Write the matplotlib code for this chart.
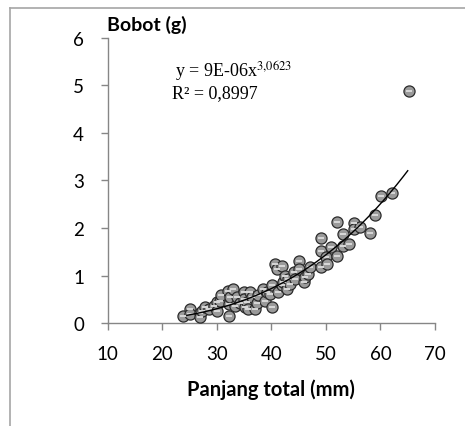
import matplotlib
matplotlib.use("Agg")
import matplotlib.pyplot as plt
import numpy as np
from matplotlib.lines import Line2D

# panjang total (mm) dan bobot (g)
panjang = [23.8, 25.0, 25.1, 26.9, 26.9, 27.2, 27.9, 28.5, 29.4, 30.0, 30.1, 30.6,
           30.8, 32.0, 32.2, 32.2, 32.4, 33.0, 33.4, 33.7, 34.3, 34.9, 34.9, 35.2,
           35.5, 35.8, 36.1, 36.4, 37.0, 37.3, 37.6, 38.5, 38.9, 39.2, 39.7, 40.1,
           40.1, 40.7, 41.0, 41.3, 41.9, 41.9, 42.2, 42.5, 42.9, 43.1, 43.5, 44.1,
           44.4, 45.0, 45.0, 45.9, 46.2, 46.8, 47.1, 49.1, 49.1, 49.1, 50.1, 50.2,
           51.0, 52.1, 52.1, 53.1, 53.2, 54.2, 55.1, 55.1, 56.2, 58.1, 59.0, 60.1,
           62.1, 65.2]
bobot = [0.14, 0.29, 0.19, 0.22, 0.12, 0.26, 0.33, 0.29, 0.36, 0.44, 0.26, 0.47,
         0.58, 0.68, 0.15, 0.40, 0.54, 0.72, 0.36, 0.54, 0.43, 0.65, 0.50, 0.33,
         0.44, 0.29, 0.65, 0.54, 0.29, 0.43, 0.58, 0.71, 0.47, 0.65, 0.61, 0.79,
         0.33, 1.24, 1.14, 0.65, 1.21, 0.79, 0.86, 1.00, 0.71, 0.93, 0.82, 1.07,
         0.93, 1.31, 1.14, 0.86, 0.96, 1.03, 1.17, 1.80, 1.52, 1.17, 1.38, 1.24,
         1.59, 1.42, 2.12, 1.87, 1.63, 1.66, 2.10, 1.98, 2.03, 1.89, 2.27, 2.68,
         2.74, 4.89]

# model regresi pangkat
koef_a = 9e-06
koef_b = 3.0623
r2 = "0,8997"

x_ticks = [10, 20, 30, 40, 50, 60, 70]
y_ticks = [0, 1, 2, 3, 4, 5, 6]

plt.rcParams['font.family'] = ['Lato', 'DejaVu Sans']
plt.rcParams['mathtext.fontset'] = 'stix'

fig = plt.figure(figsize=(4.65, 4.27), dpi=100)
ax = fig.add_axes([0.2316, 0.2412, 0.7039, 0.6675])

# bingkai luar
frame_col = '#a6a6a6'
fig.add_artist(Line2D([10 / 465, 10 / 465], [0, 1 - 9 / 427], color=frame_col, lw=1.2))
fig.add_artist(Line2D([10 / 465, 1], [1 - 9 / 427, 1 - 9 / 427], color=frame_col, lw=1.2))

ax.scatter(panjang, bobot, s=64, facecolor='#9a9a9a', edgecolor='#2b2b2b',
           linewidth=0.9, zorder=3)
# garis terang pada bola
ax.scatter(panjang, bobot, s=24, marker='_', color='#d8d8d8', linewidth=1.4, zorder=4)

xs = np.linspace(24.5, 65, 200)
ax.plot(xs, koef_a * xs ** koef_b, color='black', lw=1.0, zorder=5)

ax.set_xlim(10, 70)
ax.set_ylim(0, 6)
ax.set_xticks(x_ticks)
ax.set_yticks(y_ticks)
ax.tick_params(labelsize=13.5, length=5, color='#868686', width=1.0)
ax.tick_params(axis='x', pad=11)
ax.tick_params(axis='y', pad=12)
for s in ['top', 'right']:
    ax.spines[s].set_visible(False)
for s in ['left', 'bottom']:
    ax.spines[s].set_color('#868686')
    ax.spines[s].set_linewidth(1.0)

ax.set_xlabel('Panjang total (mm)', fontsize=14.5, fontweight='bold', labelpad=12)
fig.text(107 / 465, 1 - 25 / 427, 'Bobot (g)', fontsize=14, fontweight='bold',
         ha='left', va='center')

ax.text(0.205, 0.885, r'y = 9E-06x$^{3{,}0623}$', transform=ax.transAxes,
        family='Liberation Serif', fontsize=13, ha='left', va='center')
ax.text(0.195, 0.81, 'R² = ' + r2, transform=ax.transAxes,
        family='Liberation Serif', fontsize=13, ha='left', va='center')

fig.savefig('out.png', dpi=100)
